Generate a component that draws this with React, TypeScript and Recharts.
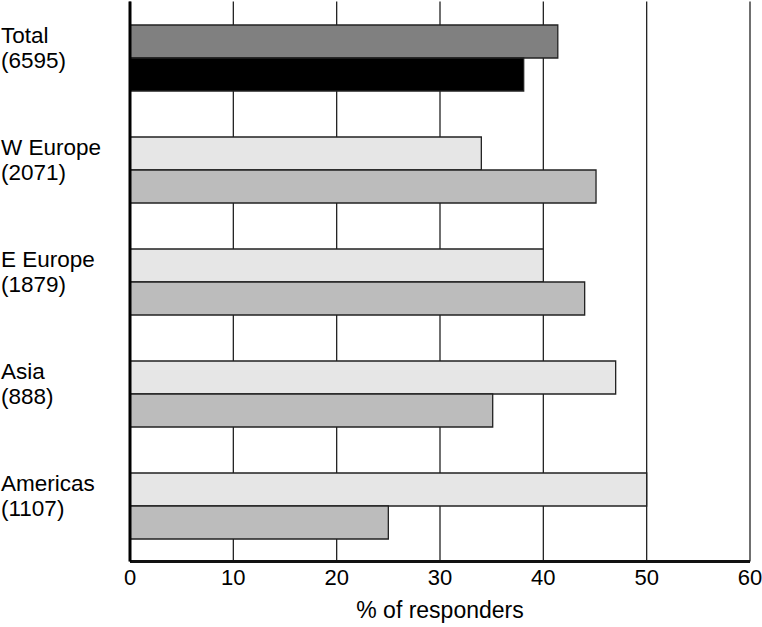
import { BarChart, Bar, XAxis, YAxis, CartesianGrid, Cell } from "recharts";

// regions and respondent counts (left labels)
const regions = ["Total", "W Europe", "E Europe", "Asia", "Americas"];
const responderCounts = ["(6595)", "(2071)", "(1879)", "(888)", "(1107)"];

// % of responders, upper and lower bar of each group
const upperValues = [41.4, 34.0, 40.0, 47.0, 50.0];
const lowerValues = [38.1, 45.1, 44.0, 35.1, 25.0];

const xTicks = [0, 10, 20, 30, 40, 50, 60];

const data = regions.map((region, i) => ({
  region,
  count: responderCounts[i],
  upper: upperValues[i],
  lower: lowerValues[i],
}));

const FONT = "'Liberation Sans', Arial, Helvetica, sans-serif";

// Total row is drawn darker than the regional rows
const upperFill = (i: number) => (i === 0 ? "#808080" : "#e6e6e6");
const lowerFill = (i: number) => (i === 0 ? "#000000" : "#bcbcbc");

function RegionTick(props: any) {
  const { y, payload } = props;
  const row = data[payload.index];
  return (
    <text x={1} y={y} textAnchor="start" fontSize={22.5} fill="#000" fontFamily={FONT}>
      <tspan x={1} dy={-15}>
        {row.region}
      </tspan>
      <tspan x={1} dy={25}>
        {row.count}
      </tspan>
    </text>
  );
}

export default function App() {
  return (
    <div style={{ position: "absolute", left: 0, top: 0, background: "#fff", fontFamily: FONT }}>
      <BarChart
        width={762}
        height={627}
        data={data}
        layout="vertical"
        margin={{ top: 1.5, right: 12, bottom: 0, left: 0 }}
        barCategoryGap={23.5}
        barGap={0}
      >
        <CartesianGrid horizontal={false} stroke="#222" strokeWidth={1.3} />
        <XAxis
          type="number"
          dataKey="upper"
          domain={[0, 60]}
          ticks={xTicks}
          height={65.5}
          tickLine={false}
          axisLine={{ stroke: "#111", strokeWidth: 3 }}
          tick={{ fontSize: 22, fill: "#000", fontFamily: FONT }}
          label={{
            value: "% of responders",
            position: "insideBottom",
            offset: 9,
            fontSize: 23,
            fill: "#000",
            fontFamily: FONT,
          }}
        />
        <XAxis
          xAxisId="top"
          orientation="top"
          type="number"
          domain={[0, 60]}
          height={0}
          tick={false}
          tickLine={false}
          axisLine={{ stroke: "#222", strokeWidth: 1.3 }}
        />
        <YAxis
          type="category"
          dataKey="region"
          width={130}
          tickLine={false}
          axisLine={{ stroke: "#000", strokeWidth: 3 }}
          tick={<RegionTick />}
          interval={0}
        />
        <Bar dataKey="upper" stroke="#222" strokeWidth={1.3} isAnimationActive={false}>
          {data.map((_, i) => (
            <Cell key={i} fill={upperFill(i)} stroke="#222" strokeWidth={1.3} />
          ))}
        </Bar>
        <Bar dataKey="lower" stroke="#222" strokeWidth={1.3} isAnimationActive={false}>
          {data.map((_, i) => (
            <Cell key={i} fill={lowerFill(i)} stroke="#222" strokeWidth={1.3} />
          ))}
        </Bar>
      </BarChart>
    </div>
  );
}
